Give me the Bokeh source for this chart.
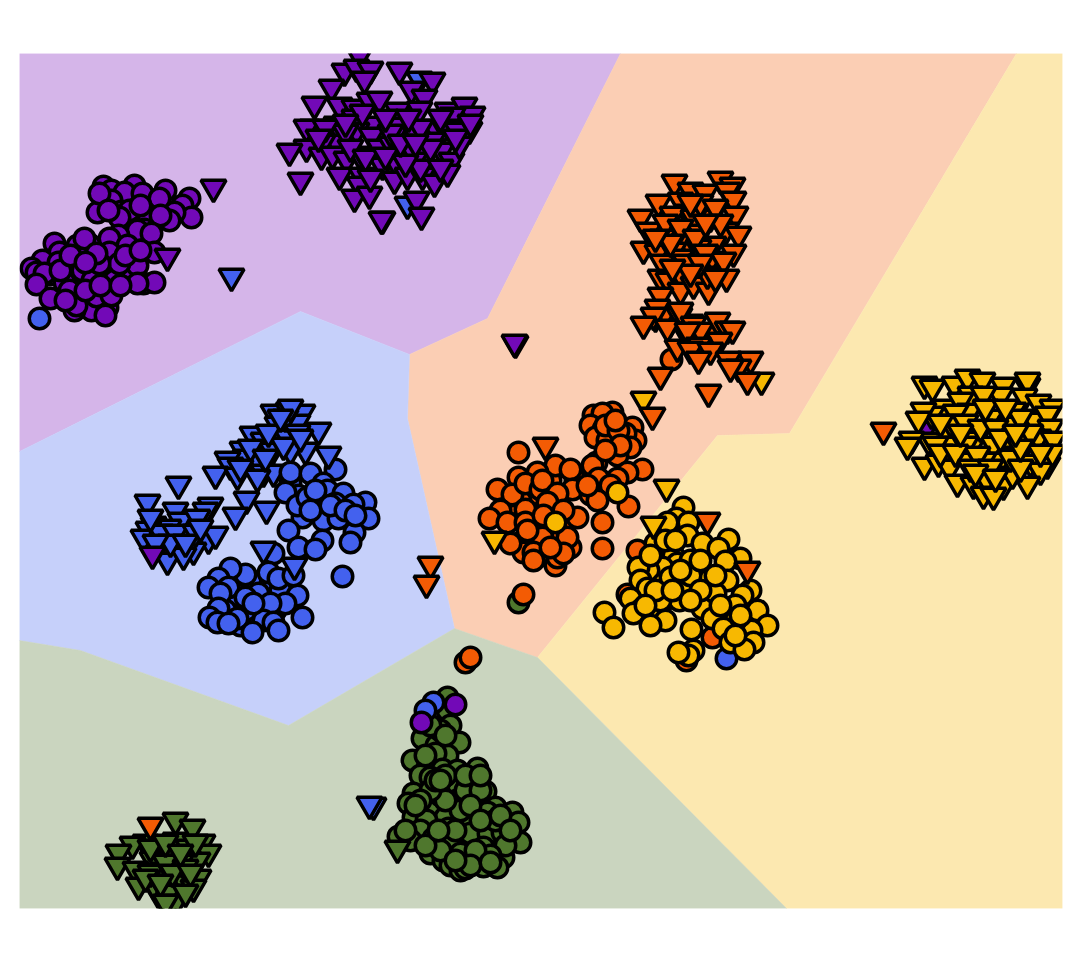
from bokeh.plotting import figure
from bokeh.models import Range1d
from bokeh.embed import file_html
from bokeh.resources import INLINE

PURPLE, ORANGE, YELLOW, BLUE, GREEN = "#7209b7", "#f35b04", "#f7b801", "#4361ee", "#4f772d"

region_purple = [(19,53),(620,53),(487,318),(409,354),(300,311),(19,451)]
region_orange = [(620,53),(1016,53),(789,433),(717,435),(537,657),(454,628),(407,418),(409,354),(487,318)]
region_yellow = [(1016,53),(1062,53),(1062,908),(786,908),(537,657),(717,435),(789,433)]
region_blue = [(19,451),(300,311),(409,354),(407,418),(454,628),(288,725),(80,650),(19,640)]
region_green = [(19,640),(80,650),(288,725),(454,628),(537,657),(786,908),(19,908)]

purple_circles = [(103,186),(111,190),(134,185),(124,192),(111,200),(97,212),(121,211),(152,201),(165,190),(189,198),(182,205),(191,217),(174,212),(169,220),(152,210),(99,193),(129,210),(142,193),(119,217),(159,198),(148,215),(160,215),(140,205),(108,210),
(144,229),(137,230),(118,235),(109,238),(151,233),(127,245),(154,252),(109,252),(89,244),(77,245),(84,238),(54,243),(59,252),(42,260),(58,262),(31,268),(36,272),(49,274),(44,273),(77,270),(82,270),(107,268),(126,271),(137,265),(143,283),(154,282),(137,283),(36,284),(64,282),(50,298),(76,298),(91,310),(107,307),(105,315),(74,310),(76,305),(96,296),(111,295),(92,280),(114,280),(119,263),(99,263),(96,253),(69,290),(60,270),(85,290),(125,255),(140,250),(70,255),(100,285),(120,285),(85,262),(65,300),(421,722),(455,704)]
purple_triangles = [(359,58),(344,74),(356,70),(370,72),(364,82),(399,73),(432,83),(411,92),(424,100),(331,90),(314,107),(339,108),(354,110),(369,103),(379,102),(397,113),(419,112),(447,113),(464,108),(472,117),(452,118),(312,130),(306,130),(336,127),(354,120),(374,127),(399,128),(414,135),(434,130),(444,130),(469,132),(457,133),(356,133),(371,138),(336,145),(322,145),(306,150),(289,154),(321,158),(332,157),(346,162),(359,157),(379,150),(391,147),(402,157),(426,158),(441,153),(451,163),(432,143),(459,147),(382,168),(397,168),(414,163),(339,178),(361,178),(359,187),(354,200),(369,197),(394,182),(407,178),(422,178),(434,185),(447,175),(416,202),(421,218),(382,222),(381,222),(300,183),(213,190),(167,259),(515,346),(514,345),(152,557),(925,432),
(420,130),(430,150),(390,135),(410,150),(345,135),(350,150),(365,160),(385,158),(325,130),(440,120),(455,140),(470,125),(362,115),(385,120),(408,120),(420,170),(440,170),(370,180),(405,165),(345,125),(318,140),(400,145),(415,145)]

orange_circles = [(593,415),(612,412),(602,413),(590,425),(603,429),(595,437),(607,440),(632,427),(635,440),(625,433),(630,447),(617,455),(596,462),(592,465),(642,469),(627,472),(598,478),(617,478),(610,485),(628,506),(602,522),(602,548),(518,452),
(535,500),(550,480),(565,520),(530,495),(520,500),(515,515),(535,530),(575,480),(605,425),(618,430),(615,420),(620,445),(605,450),(545,555),(540,545),(530,540),
(555,465),(570,469),(537,472),(518,477),(497,489),(512,494),(525,483),(540,489),(542,480),(572,489),(590,494),(597,500),(587,485),(557,493),(547,502),(525,509),(500,510),(489,518),(507,522),(525,522),(577,517),(543,515),(563,510),(553,537),(542,537),(518,543),(523,552),(533,552),(533,560),(555,565),(557,557),(570,547),(567,537),(563,553),(550,547),(527,530),(510,543),
(637,550),(627,594),(712,637),(686,660),(671,359),(465,662),(470,657),(523,594)]
orange_triangles = [(674,185),(720,182),(732,188),(690,193),(705,195),(727,193),(658,205),(680,203),(733,202),(640,220),(687,215),(710,220),(735,217),(672,217),(693,220),(648,233),(675,232),(700,235),(725,233),(738,237),(662,240),(688,245),(713,247),(643,252),(657,255),(673,253),(698,250),(733,255),(710,262),(723,263),(662,265),(680,260),(697,275),(660,280),(668,283),(682,280),(680,293),(693,287),(708,293),(726,280),(707,277),
(700,205),(715,210),(665,225),(680,230),(695,240),(705,255),(720,225),(670,245),(685,265),(655,240),(700,265),(690,275),(672,270),(705,225),(715,280),(690,205),(655,320),(670,325),(688,340),(705,340),(690,325),(712,335),(665,315),
(660,298),(657,310),(653,318),(643,327),(679,318),(667,330),(680,313),(693,327),(700,333),(717,323),(727,332),(732,332),(687,333),(719,343),(698,348),(677,350),(690,352),(710,353),(698,362),(750,362),(728,362),(738,370),(730,370),(747,383),(660,378),(708,395),
(652,418),(545,448),(707,523),(747,572),(430,567),(426,586),(150,828),(883,433)]

yellow_circles = [(683,507),(676,518),(688,522),(667,522),(687,535),(702,543),(728,539),(718,548),(655,543),(740,558),(725,561),(673,555),(677,563),(690,560),(698,568),(662,567),(648,570),(638,567),(709,579),(727,580),(640,580),(663,583),(647,588),(715,593),(750,590),(742,595),(667,598),(679,600),(630,598),(641,609),(633,613),(702,608),(728,613),(757,610),(657,618),(665,620),(650,625),(712,618),(767,625),(751,630),(735,620),(723,628),(691,629),(753,642),(730,642),(744,649),(693,650),(688,655),(678,652),(604,612),(613,627),(670,577),(683,587),(555,522),(617,492),
(690,575),(700,590),(660,600),(655,590),(680,570),(672,590),(715,575),(735,605),(720,605),(690,600),(650,555),(665,540),(675,540),(700,560),(645,605),(740,615),(735,635)]
yellow_triangles = [(924,387),(932,390),(954,387),(967,380),(982,383),(1003,388),(1027,388),(1027,383),(970,397),(1000,398),(1024,399),(983,397),(1038,405),(1052,410),(943,410),(960,403),(969,414),(955,415),(931,417),(923,413),(918,422),(990,420),(1013,413),(1010,427),(1034,423),(1047,417),(1050,430),(945,433),(957,432),(975,442),(928,443),(911,442),(907,448),(948,447),(935,447),(965,447),(1005,448),(1027,443),(1038,440),(1053,442),(993,447),(924,468),(938,465),(949,470),(967,463),(1000,463),(983,463),(1017,457),(1030,465),(1047,467),(1040,473),(957,485),(973,487),(986,482),(1003,488),(1027,487),(1012,477),(983,497),(993,498),(1052,455),(977,457),
(950,425),(965,425),(980,430),(995,430),(1020,420),(1030,435),(940,455),(955,455),(970,470),(990,470),(1010,460),(1020,470),(1040,455),(985,410),(1005,410),(960,435),(1000,440),(1020,450),(940,425),(1015,435),(975,475),(995,480),
(761,383),(643,402),(494,542),(666,490),(653,527)]

blue_circles = [(290,483),(298,495),(285,492),(290,472),(310,473),(335,469),(323,483),(327,490),(343,493),(365,502),(353,504),(368,518),(320,507),(335,503),(302,517),(323,520),(338,518),(288,530),(354,532),(350,542),(322,540),(298,547),(315,549),(342,576),(297,505),(307,497),
(315,490),(330,505),(345,510),(310,510),(355,515),(240,590),(265,585),(250,580),(235,600),(240,625),(225,610),(265,610),(280,590),(275,610),(245,610),
(273,553),(245,574),(268,572),(278,578),(230,568),(218,578),(208,587),(228,587),(220,593),(258,593),(245,597),(297,595),(293,575),(285,603),(270,603),(218,608),(209,617),(217,622),(237,618),(228,623),(302,617),(263,620),(273,622),(278,630),(252,632),(253,603),
(39,318),(726,658),(433,702),(425,710)]
blue_triangles_low = [(273,415),(288,413),(302,415),(277,427),(292,433),(318,433),(297,425),(252,437),(263,443),(277,443),(287,440),(242,452),(272,453),(305,453),(290,453),(245,460),(227,462),(230,468),(215,477),(258,463),(263,475),(273,475),(237,478),(257,480),
(285,420),(297,435),(283,448),(268,435),(300,440),(250,450),(265,460),(240,470),(290,410),(280,420)]
blue_triangles = [(328,457),(178,487),(246,502),(235,518),(266,512),(147,505),(175,513),(210,508),(205,513),(180,523),(153,527),(197,520),(168,530),(148,532),(143,540),(162,542),(187,537),(208,542),(215,537),(193,553),(167,563),(183,558),(263,552),(294,568),(231,279),(373,808),(369,807),(419,82),(407,207),
(160,535),(175,535),(195,535),(170,545),(155,545),(185,545),(200,530),(150,520)]

green_circles = [(447,697),(447,710),(450,725),(422,738),(436,745),(459,742),(447,755),(435,753),(412,760),(427,767),(442,769),(457,770),(477,768),(420,775),(430,777),(472,780),(453,783),(485,791),(413,793),(408,803),(456,800),(468,799),(430,808),(440,795),(495,807),(487,812),(512,812),(518,822),(413,817),(445,817),(426,820),(448,828),(470,823),(420,830),(398,836),(410,840),(433,838),(470,833),(488,833),(502,832),(520,842),(450,842),(430,853),(483,847),(503,857),(471,858),(483,866),(497,867),(457,863),(443,860),(450,865),(460,853),(518,602),
(440,730),(430,725),(445,735),(465,790),(480,790),(495,820),(505,845),(490,855),(475,850),(440,850),(425,845),(460,810),(470,805),(445,800),(430,790),(420,800),(455,830),(480,820),(500,815),(438,830),(445,775),(465,775),(435,780),(480,775),(415,805),(405,830),(460,870),(465,868),(470,865),(490,862),(510,830),(455,860),(440,780),(425,755)]
green_triangles = [(175,823),(192,830),(202,845),(175,843),(188,850),(145,845),(132,847),(208,855),(160,853),(118,855),(117,868),(152,862),(197,863),(135,872),(170,858),(162,873),(198,880),(138,888),(172,885),(182,882),(160,900),(175,897),(193,890),(153,887),(163,890),(168,895),(397,851),
(180,865),(150,875),(165,865),(185,870),(172,875),(150,850),(195,845),(165,845),(180,855),(190,875),(145,880),(160,885),(175,905),(165,905),(185,895)]

series = [
    (green_circles, GREEN, "circle"),
    (blue_triangles_low, BLUE, "inverted_triangle"),
    (blue_circles, BLUE, "circle"),
    (purple_circles, PURPLE, "circle"),
    (orange_circles, ORANGE, "circle"),
    (yellow_circles, YELLOW, "circle"),
    (green_triangles, GREEN, "inverted_triangle"),
    (blue_triangles, BLUE, "inverted_triangle"),
    (purple_triangles, PURPLE, "inverted_triangle"),
    (yellow_triangles, YELLOW, "inverted_triangle"),
    (orange_triangles, ORANGE, "inverted_triangle"),
]
regions = [(region_purple, "#d5b5e9"), (region_orange, "#fbceb4"), (region_yellow, "#fce8b0"),
           (region_blue, "#c6d0fa"), (region_green, "#cad5bf")]

p = figure(width=1072, height=956, x_range=Range1d(19, 1062), y_range=Range1d(908, 53),
           output_backend="svg", toolbar_location=None,
           min_border_left=19, min_border_right=10, min_border_top=53, min_border_bottom=48)
p.axis.visible = False
p.grid.visible = False
p.outline_line_color = None
p.background_fill_color = "white"

for pts, col in regions:
    p.patch([a for a, _ in pts], [b for _, b in pts], fill_color=col, line_color=col, line_width=0.5)
for pts, col, mk in series:
    is_circle = mk == "circle"
    lift = 0 if is_circle else 3
    p.scatter([a for a, _ in pts], [b - lift for _, b in pts], marker=mk, size=20.5 if is_circle else 25,
              fill_color=col, line_color="black", line_width=3.5)

open("out.html", "w").write(file_html(p, INLINE))
